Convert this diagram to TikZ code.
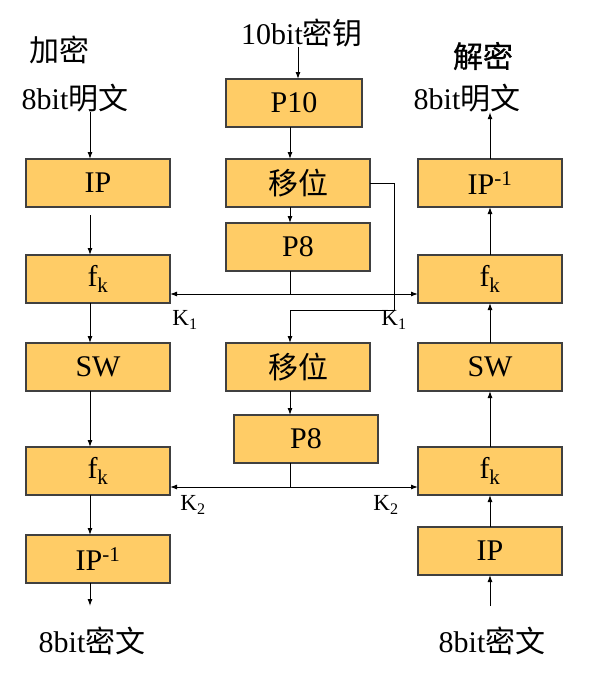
\documentclass[tikz,border=0pt]{standalone}
\usepackage{fontspec}
\setmainfont{Liberation Serif}
\newfontfamily\cjk{Noto Sans CJK SC}
\newfontfamily\cjkheavy[FakeBold=0.8]{Noto Sans CJK SC}
\usetikzlibrary{positioning,arrows.meta}
\definecolor{boxfill}{HTML}{FFCC66}
\definecolor{boxline}{HTML}{404040}
\tikzset{
    block/.style={draw=boxline, line width=1.2pt, fill=boxfill, minimum width=144pt, minimum height=48pt, inner sep=0pt, outer sep=0pt, font=\fontsize{30}{34}\selectfont}, % the orange boxes
    lbl/.style={inner sep=0pt, font=\fontsize{30}{34}\selectfont},
    klabel/.style={inner sep=0pt, font=\fontsize{23}{26}\selectfont},
    arr/.style={-{Latex[length=7pt,width=5pt]}, line width=1pt},
    link/.style={line width=1pt},
}

\begin{document}
\begin{tikzpicture}[x=1pt, y=-1pt]
    \useasboundingbox (0,0) rectangle (594,678);

    % axes of the arrows
    \coordinate (lax) at (90,0);
    \coordinate (max) at (290,0);
    \coordinate (kax) at (298,0);

    % encryption
    \node[block] (ipl) at (98,183) {IP};
    \node[block] (fkla) [below=48pt of ipl] {f\textsubscript{k}};
    \node[block] (swl) [below=40pt of fkla] {SW};
    \node[block] (fklb) [below=56pt of swl] {f\textsubscript{k}};
    \node[block] (ipinvl) [below=40pt of fklb] {IP\textsuperscript{-1}};

    % key generation
    \node[block, minimum width=136pt] (p10) at (294,103) {P10};
    \node[block, xshift=4pt] (shifta) [below=32pt of p10] {\cjk 移位};
    \node[block] (p8a) [below=16pt of shifta] {P8};
    \node[block] (shiftb) [below=72pt of p8a] {\cjk 移位};
    \node[block, xshift=8pt] (p8b) [below=24pt of shiftb] {P8};

    % decryption
    \node[block] (ipinvr) at (490,183) {IP\textsuperscript{-1}};
    \node[block] (fkra) [below=48pt of ipinvr] {f\textsubscript{k}};
    \node[block] (swr) [below=40pt of fkra] {SW};
    \node[block] (fkrb) [below=56pt of swr] {f\textsubscript{k}};
    \node[block] (ipr) [below=32pt of fkrb] {IP};

    % texts
    \node[lbl] (enc) at (59,50) {\cjk 加密};
    \node[lbl] (plainl) at (75,98) {8bit{\cjk 明文}};
    \node[lbl] (key10) at (302,33) {10bit{\cjk 密钥}};
    \node[lbl] (dec) at (483,56) {\cjkheavy 解密};
    \node[lbl] (plainr) at (467,98) {8bit{\cjk 明文}};
    \node[lbl] (cipl) at (92,641) {8bit{\cjk 密文}};
    \node[lbl] (cipr) at (492,641) {8bit{\cjk 密文}};

    \node[klabel] (k1l) at (185,320) {K\textsubscript{1}};
    \node[klabel] (k1r) at (394,320) {K\textsubscript{1}};
    \node[klabel] (k2l) at (193,505) {K\textsubscript{2}};
    \node[klabel] (k2r) at (386,505) {K\textsubscript{2}};

    \coordinate (ipout) at (90,215);
    \coordinate (endl) at (90,606);
    \coordinate (startr) at (490,606);
    \coordinate (k1) at (290,294);
    \coordinate (k2) at (290,487);
    \coordinate (turn) at (394,310);

    % encryption flow
    \draw[arr] (plainl.south -| lax) -- (ipl.north -| lax);
    \draw[arr] (ipout) -- (fkla.north -| lax);
    \draw[arr] (fkla.south -| lax) -- (swl.north -| lax);
    \draw[arr] (swl.south -| lax) -- (fklb.north -| lax);
    \draw[arr] (fklb.south -| lax) -- (ipinvl.north -| lax);
    \draw[arr] (ipinvl.south -| lax) -- (endl);

    % keys
    \draw[arr] (key10.south -| kax) -- (p10.north -| kax);
    \draw[arr] (p10.south -| max) -- (shifta.north -| max);
    \draw[arr] (shifta.south -| max) -- (p8a.north -| max);
    \draw[link] (p8a.south -| max) -- (k1);
    \draw[arr] (k1) -- (k1 -| fkla.east);
    \draw[arr] (k1) -- (k1 -| fkra.west);
    \draw[arr] (shifta.east) -| (turn) -| (shiftb.north -| max);
    \draw[arr] (shiftb.south -| max) -- (p8b.north -| max);
    \draw[link] (p8b.south -| max) -- (k2);
    \draw[arr] (k2) -- (k2 -| fklb.east);
    \draw[arr] (k2) -- (k2 -| fkrb.west);

    % decryption flow
    \draw[arr] (startr) -- (ipr.south);
    \draw[arr] (ipr.north) -- (fkrb.south);
    \draw[arr] (fkrb.north) -- (swr.south);
    \draw[arr] (swr.north) -- (fkra.south);
    \draw[arr] (fkra.north) -- (ipinvr.south);
    \draw[arr] (ipinvr.north) -- (plainr.south -| ipinvr.north);
\end{tikzpicture}
\end{document}
